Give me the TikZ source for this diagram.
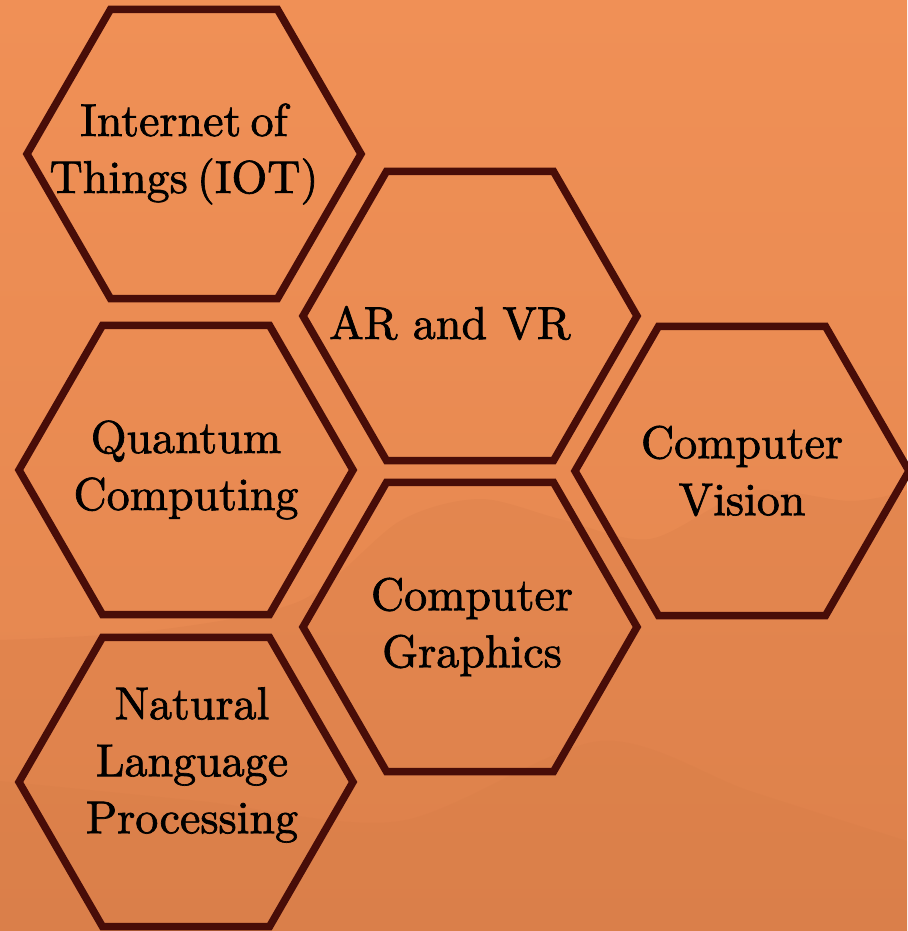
\documentclass[tikz,border=0pt]{standalone}
\usepackage{tikz}
\usetikzlibrary{shapes,calc,backgrounds}
\definecolor{bgtop}{RGB}{240,144,86}
\definecolor{bgbottom}{RGB}{226,133,78}
\definecolor{hillbrown}{RGB}{185,100,58}
\definecolor{hexline}{RGB}{72,13,8}
\font\hexfnt="[lmroman10-regular]:mapping=tex-text;embolden=1.5" at 46pt
\tikzstyle{hexa}=[regular polygon, regular polygon sides=6, minimum size=334pt, inner sep=0pt, draw=hexline, line width=7.5pt, line join=miter]
\tikzset{
    hextext/.style={align=center, text=black, font={\fontsize{46}{57}\selectfont\hexfnt}}
}

\begin{document}
\begin{tikzpicture}[x=1pt,y=1pt]
  \useasboundingbox (0,0) rectangle (907,931);
  \shade[top color=bgtop, bottom color=bgbottom] (0,0) rectangle (907,931);
  % faint hills
  \fill[hillbrown, opacity=0.10] plot[smooth] coordinates {(0,291) (150,300) (300,330) (400,410) (480,432) (560,412) (650,392) (750,440) (850,430) (907,440)} |- (0,0) -- cycle;
  \fill[hillbrown, opacity=0.06] plot[smooth] coordinates {(0,150) (200,130) (400,110) (600,190) (750,140) (907,90)} |- (0,0) -- cycle;

  % hexagons
  \node[hexa, label={[hextext, xshift=-10pt, execute at begin node={\spaceskip=0.2em\relax}]center:Internet of\\Things (IOT)}] (h_iot) at (194,777) {};
  \node[hexa, label={[hextext, xshift=-20pt, yshift=-7pt]center:AR and VR}] (h_arvr) at (470,615) {};
  \node[hexa, label={[hextext]center:Quantum\\Computing}] (h_quantum) at (186,461) {};
  \node[hexa, label={[hextext]center:Computer\\Vision}] (h_vision) at (742,460) {};
  \node[hexa, label={[hextext, xshift=2pt]center:Computer\\Graphics}] (h_graphics) at (470,304) {};
  \node[hexa, label={[hextext, xshift=6pt, yshift=17pt]center:Natural\\Language\\Processing}] (h_nlp) at (186,149) {};
\end{tikzpicture}
\end{document}
